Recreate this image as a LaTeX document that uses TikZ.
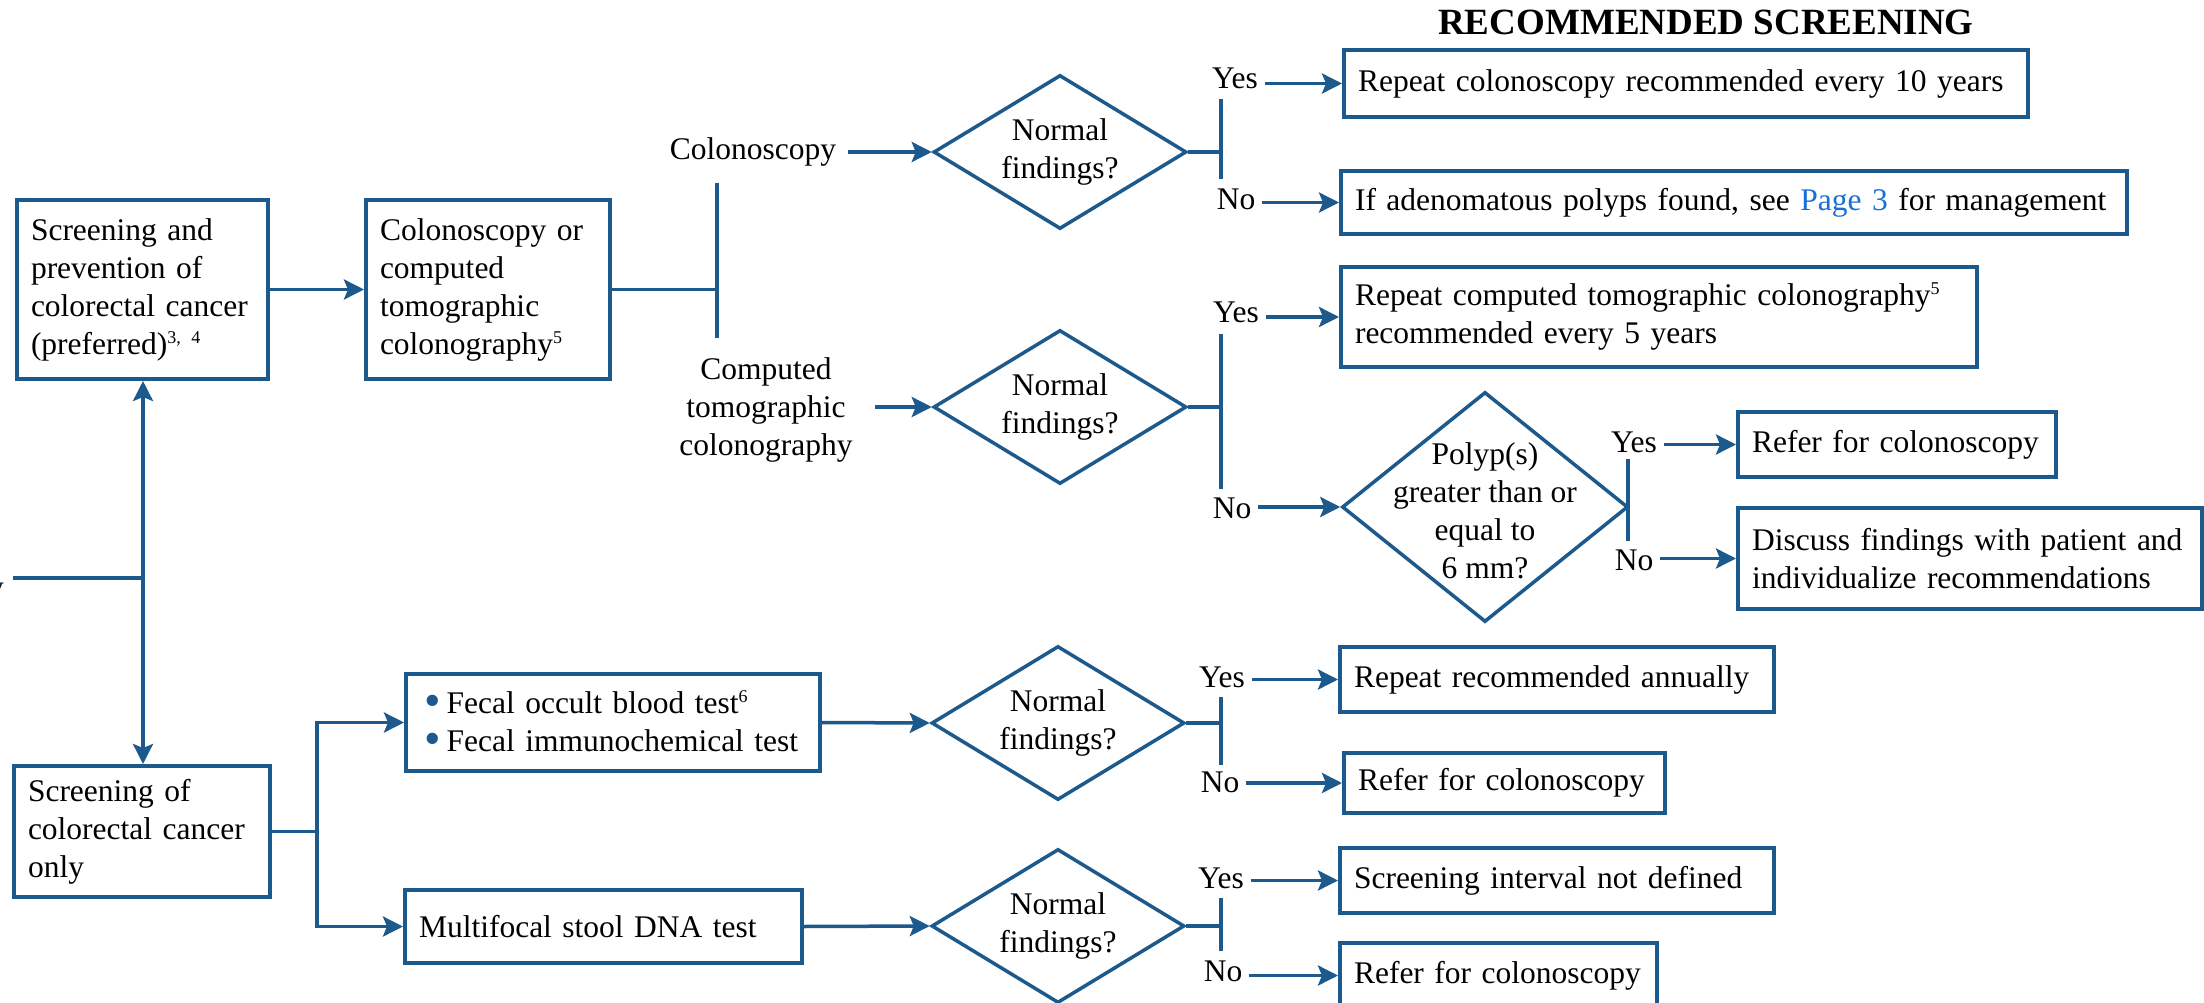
\documentclass[tikz,border=0pt]{standalone}
\usepackage{fontspec}
\setmainfont{Liberation Serif}
\usetikzlibrary{arrows.meta,shapes.geometric}
\definecolor{cb}{RGB}{28,89,140}
\definecolor{linkblue}{RGB}{24,112,214}
\tikzset{
  txt/.style={font=\fontsize{31.5}{38}\selectfont, text=black},
  box/.style={txt, draw=cb, line width=4pt, rectangle, align=left, inner xsep=14pt, inner ysep=0pt},
  dia/.style={draw=cb, line width=3.5pt, diamond, inner sep=0pt},
  lbl/.style={txt, inner xsep=7pt, inner ysep=0pt, anchor=base},
  conn/.style={draw=cb, line width=3.5pt},
  arr/.style={conn, -{Stealth[length=20pt,width=20pt,inset=4pt]}},
}
\newcommand{\bul}{\hspace*{4pt}{\color{cb}\raisebox{-3pt}{\scalebox{1.5}{•}}}\hspace{6pt}}
\newcommand{\sps}[1]{\raisebox{11pt}{\fontsize{18}{18}\selectfont #1}}
\begin{document}
\begin{tikzpicture}[x=1pt,y=-1pt]
\useasboundingbox (0,0) rectangle (2204,1003);
\fill[white] (0,0) rectangle (2204,1003);

% title
\node[font=\fontsize{37}{40}\selectfont\bfseries, anchor=base, inner sep=0pt] (title) at (1706,35) {RECOMMENDED SCREENING};

% cut-off fragment at left edge
\node[txt, anchor=base east, inner sep=0pt] (frag) at (4,597) {y};

% left boxes
\node[box, text width=223pt, minimum height=179pt] (A) at (142.5,289.5) {\mbox{Screening and}\\\mbox{prevention of}\\\mbox{colorectal cancer}\\\mbox{(preferred)\sps{3, 4}}};
\node[box, text width=216pt, minimum height=179pt] (B) at (488,289.5) {\mbox{Colonoscopy or}\\computed\\tomographic\\\mbox{colonography\sps{5}}};
\node[box, text width=228pt, minimum height=131pt] (C) at (142,831.5) {\mbox{Screening of}\\\mbox{colorectal cancer}\\only};
\node[box, text width=386pt, minimum height=97pt] (F) at (613,722.5) {\mbox{\bul Fecal occult blood test\sps{6}}\\\mbox{\bul Fecal immunochemical test}};
\node[box, text width=369pt, minimum height=73pt] (M) at (603.5,926.5) {\mbox{Multifocal stool DNA test}};

% result boxes
\node[box, text width=656pt, minimum height=67pt] (R1) at (1686,83.5) {\mbox{Repeat colonoscopy recommended every 10 years}};
\node[box, text width=758pt, minimum height=63pt] (R2) at (1734,202.5) {\mbox{If adenomatous polyps found, see {\color{linkblue}Page 3} for management}};
\node[box, text width=608pt, minimum height=100pt] (R3) at (1659,317) {\mbox{Repeat computed tomographic colonography\sps{5}}\\\mbox{recommended every 5 years}};
\node[box, text width=290pt, minimum height=65pt] (R4) at (1897,444.5) {\mbox{Refer for colonoscopy}};
\node[box, text width=436pt, minimum height=101pt] (R5) at (1970,558.5) {\mbox{Discuss findings with patient and}\\\mbox{individualize recommendations}};
\node[box, text width=406pt, minimum height=65pt] (R6) at (1557,679.5) {\mbox{Repeat recommended annually}};
\node[box, text width=293pt, minimum height=60pt] (R7) at (1504.5,783) {\mbox{Refer for colonoscopy}};
\node[box, text width=406pt, minimum height=65pt] (R8) at (1557,880.5) {\mbox{Screening interval not defined}};
\node[box, text width=289pt, minimum height=65pt] (R9) at (1498.5,975.5) {\mbox{Refer for colonoscopy}};

% diamonds
\node[dia, minimum width=253pt, minimum height=154pt] (D1) at (1060,152) {};
\node[txt, align=center] (D1t) at (D1) {Normal\\findings?};
\node[dia, minimum width=253pt, minimum height=154pt] (D2) at (1060,407) {};
\node[txt, align=center] (D2t) at (D2) {Normal\\findings?};
\node[dia, minimum width=286pt, minimum height=230pt] (D3) at (1485,507) {};
\node[txt, align=center] (D3t) at (1485,511) {Polyp(s)\\greater than or\\equal to\\6 mm?};
\node[dia, minimum width=253pt, minimum height=154pt] (D4) at (1058,723) {};
\node[txt, align=center] (D4t) at (D4) {Normal\\findings?};
\node[dia, minimum width=253pt, minimum height=154pt] (D5) at (1058,926) {};
\node[txt, align=center] (D5t) at (D5) {Normal\\findings?};

% branch labels
\node[txt, inner xsep=12pt, inner ysep=0pt, anchor=base] (colo) at (753,160) {Colonoscopy};
\node[txt, align=center, inner xsep=22pt, inner ysep=0pt] (ctc) at (766,410) {Computed\\tomographic\\colonography};

\node[lbl] (y1) at (1235,89) {Yes};
\node[lbl] (n1) at (1236,210) {No};
\node[lbl] (y2) at (1236,322) {Yes};
\node[lbl] (n2) at (1232,518) {No};
\node[lbl] (y3) at (1634,452) {Yes};
\node[lbl] (n3) at (1634,570) {No};
\node[lbl] (y4) at (1222,687) {Yes};
\node[lbl] (n4) at (1220,792) {No};
\node[lbl] (y5) at (1221,888) {Yes};
\node[lbl] (n5) at (1223,981) {No};

% junction coordinates
\coordinate (L0) at (13,578);
\coordinate (L1) at (143,578);
\coordinate (spT) at (717,183);
\coordinate (spB) at (717,338);
\coordinate (cJx) at (317,0);
\coordinate (j1a) at (1221,99);
\coordinate (j1b) at (1221,179);
\coordinate (j2a) at (1221,334);
\coordinate (j2b) at (1221,489);
\coordinate (j3a) at (1628,459);
\coordinate (j3b) at (1628,541);
\coordinate (j4a) at (1221,697);
\coordinate (j4b) at (1221,765);
\coordinate (j5a) at (1221,898);
\coordinate (j5b) at (1221,951);

% left connectors
\draw[conn] (L0) -- (L1);
\draw[arr] (L1) -- (L1 |- A.south);
\draw[arr] (L1) -- (L1 |- C.north);
\draw[arr] (A.east) -- (B.west);
\draw[conn] (B.east) -- (B.east -| spT);
\draw[conn] (spT) -- (spB);
\draw[arr] (colo.east |- D1.west) -- (D1.west);
\draw[arr] (ctc.east |- D2.west) -- (D2.west);
\draw[conn] (C.east) -- (C.east -| cJx);
\draw[arr] (C.east -| cJx) |- (F.west);
\draw[arr] (C.east -| cJx) |- (M.west);
\draw[arr] (F.east) -- (D4.west);
\draw[arr] (M.east) -- (D5.west);

% decision outputs
\draw[conn] (D1.east) -- (D1.east -| j1a);
\draw[conn] (j1a) -- (j1b);
\draw[arr] (y1.east |- R1.west) -- (R1.west);
\draw[arr] (n1.east |- R2.west) -- (R2.west);

\draw[conn] (D2.east) -- (D2.east -| j2a);
\draw[conn] (j2a) -- (j2b);
\draw[arr] (y2.east |- R3.west) -- (R3.west);
\draw[arr] (n2.east |- D3.west) -- (D3.west);

\draw[conn] (j3a) -- (j3b);
\draw[arr] (y3.east |- R4.west) -- (R4.west);
\draw[arr] (n3.east |- R5.west) -- (R5.west);

\draw[conn] (D4.east) -- (D4.east -| j4a);
\draw[conn] (j4a) -- (j4b);
\draw[arr] (y4.east |- R6.west) -- (R6.west);
\draw[arr] (n4.east |- R7.west) -- (R7.west);

\draw[conn] (D5.east) -- (D5.east -| j5a);
\draw[conn] (j5a) -- (j5b);
\draw[arr] (y5.east |- R8.west) -- (R8.west);
\draw[arr] (n5.east |- R9.west) -- (R9.west);
\end{tikzpicture}
\end{document}
